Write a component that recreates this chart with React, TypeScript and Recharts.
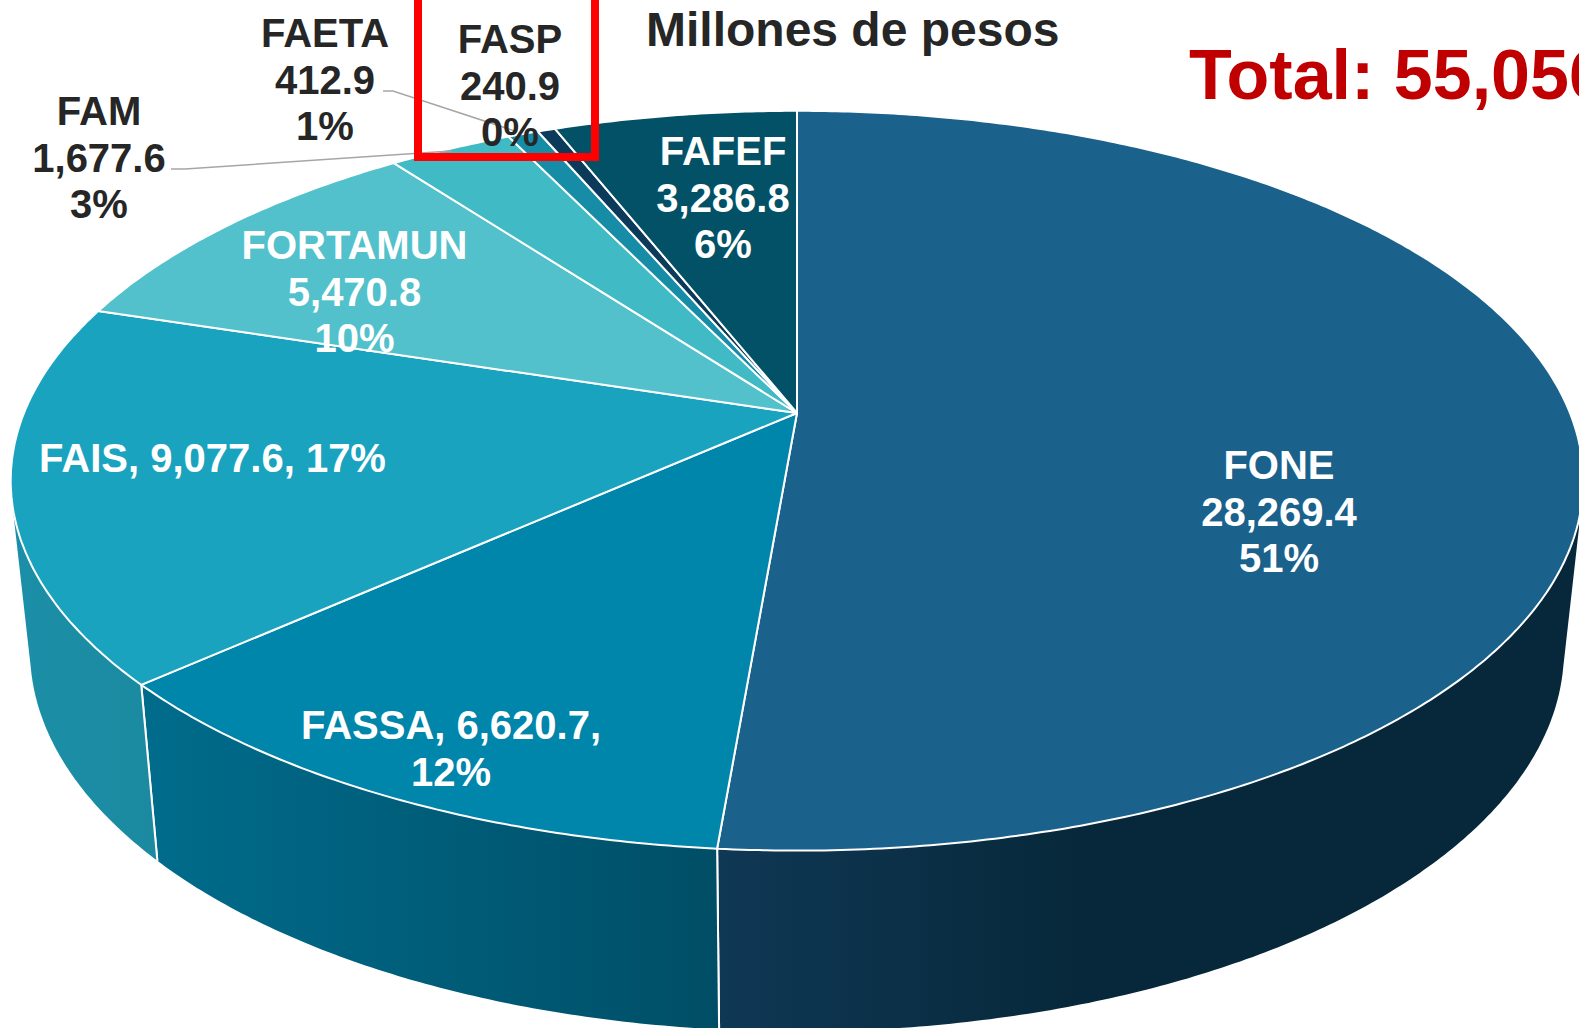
import React from "react";
import { PieChart, Pie } from "recharts";

const names = ["FONE", "FASSA", "FAIS", "FORTAMUN", "FAM", "FAETA", "FASP", "FAFEF"];
const amounts = [28269.4, 6620.7, 9077.6, 5470.8, 1677.6, 412.9, 240.9, 3286.8];
const shares = ["51%", "12%", "17%", "10%", "3%", "1%", "0%", "6%"];
const topColors = ["#1A618C", "#0085AB", "#1AA3BF", "#52C1CB", "#40BAC5", "#168CA6", "#0B3A5A", "#035166"];
const wallFrom = ["#0F3855", "#006C8C", "#1B8FA8", "#3FA0AA", "#309AA5", "#107088", "#082C44", "#023E4E"];
const wallTo = ["#07283A", "#004E66", "#1B8AA0", "#3FA0AA", "#309AA5", "#107088", "#082C44", "#023E4E"];
const wallStop = [0.42, 1, 1, 1, 1, 1, 1, 1];

const labelLines: string[][] = names.map((n, i) => {
  const v = amounts[i].toLocaleString("en-US", { minimumFractionDigits: 1, maximumFractionDigits: 1 });
  if (n === "FAIS") return [`${n}, ${v}, ${shares[i]}`];
  if (n === "FASSA") return [`${n}, ${v},`, shares[i]];
  return [n, v, shares[i]];
});
const labelX = [1279, 451, 212.5, 354.5, 99, 325, 510, 723];
const labelY = [479, 739, 472, 259, 125, 47, 53, 165];
const labelFill = ["#fff", "#fff", "#fff", "#fff", "#262626", "#262626", "#262626", "#fff"];
const leaders: Record<string, string> = {
  FAM: "171,169 185,169 451,151",
  FAETA: "383,91 393,91 515,131",
};

const chartData = names.map((name, i) => ({ name, value: amounts[i] }));

const FONT = "'Liberation Sans', Arial, sans-serif";
const PERSPECTIVE = 0.183;
const TOP_DISC = { x: 797, y: 413, rx: 773, ry: 357.5 };
const BASE_DISC = { x: 797, y: 581, rx: 754, ry: 368 };

type Pt = [number, number];
type Disc = typeof TOP_DISC;
const project = (d: Disc, angleDeg: number): Pt => {
  const t = (angleDeg * Math.PI) / 180;
  const u = Math.cos(t);
  const v = Math.sin(t);
  const w = 1 + PERSPECTIVE * v;
  return [d.x + (d.rx * u) / w, d.y - (d.ry * v) / w];
};
const rim = (d: Disc, a0: number, a1: number): Pt[] => {
  const n = Math.max(2, Math.ceil(Math.abs(a1 - a0) / 0.5));
  const out: Pt[] = [];
  for (let i = 0; i <= n; i++) out.push(project(d, a0 + ((a1 - a0) * i) / n));
  return out;
};
const toPath = (pts: Pt[]) => "M" + pts.map((p) => `${p[0].toFixed(1)},${p[1].toFixed(1)}`).join("L") + "Z";

// Each wall step is a quad with the same winding, so the side fills out to the silhouette.
const wallPath = (a: Pt[], b: Pt[]) => {
  let d = "";
  for (let i = 0; i < a.length - 1; i++) {
    const quad: Pt[] = [a[i], a[i + 1], b[i + 1], b[i]];
    let area = 0;
    quad.forEach((p, j) => {
      const q = quad[(j + 1) % 4];
      area += p[0] * q[1] - q[0] * p[1];
    });
    d += toPath(area < 0 ? [...quad].reverse() : quad);
  }
  return d;
};

const WallShape = (props: any) => {
  const { startAngle, endAngle, index } = props;
  const a = rim(TOP_DISC, startAngle, endAngle);
  const b = rim(BASE_DISC, startAngle, endAngle);
  const id = `wall-${index}`;
  const s0 = project(TOP_DISC, startAngle);
  const s1 = project(BASE_DISC, startAngle);
  const e0 = project(TOP_DISC, endAngle);
  const e1 = project(BASE_DISC, endAngle);
  return (
    <g>
      <defs>
        <linearGradient id={id} x1="0" y1="0" x2="1" y2="0">
          <stop offset="0" stopColor={wallFrom[index]} />
          <stop offset={wallStop[index]} stopColor={wallTo[index]} />
        </linearGradient>
      </defs>
      <path d={wallPath(a, b)} fill={`url(#${id})`} stroke="none" />
      <line x1={s0[0]} y1={s0[1]} x2={s1[0]} y2={s1[1]} stroke="#fff" strokeWidth={2} />
      <line x1={e0[0]} y1={e0[1]} x2={e1[0]} y2={e1[1]} stroke="#fff" strokeWidth={2} />
    </g>
  );
};

const TopShape = (props: any) => {
  const { startAngle, endAngle, index } = props;
  const pts: Pt[] = [[TOP_DISC.x, TOP_DISC.y], ...rim(TOP_DISC, startAngle, endAngle)];
  return <path d={toPath(pts)} fill={topColors[index]} stroke="#fff" strokeWidth={2} strokeLinejoin="round" />;
};

const renderLabel = (props: any) => {
  const i = props.index;
  const name = names[i];
  return (
    <g key={name}>
      {leaders[name] && <polyline points={leaders[name]} fill="none" stroke="#A6A6A6" strokeWidth={1.5} />}
      {name === "FASP" && <rect x={418} y={-20} width={177} height={177} fill="none" stroke="#FF0000" strokeWidth={8} />}
      {labelLines[i].map((line, j) => (
        <text
          key={j}
          x={labelX[i]}
          y={labelY[i] + j * 46.7}
          textAnchor="middle"
          fontFamily={FONT}
          fontWeight={700}
          fontSize={40}
          fill={labelFill[i]}
        >
          {line}
        </text>
      ))}
    </g>
  );
};

export default function App() {
  return (
    <div style={{ position: "absolute", left: 0, top: 0, width: 1579, height: 1028, overflow: "hidden" }}>
      <PieChart width={1579} height={1028} margin={{ top: 0, right: 0, bottom: 0, left: 0 }}>
        <Pie
          data={chartData}
          dataKey="value"
          nameKey="name"
          cx={TOP_DISC.x}
          cy={TOP_DISC.y}
          innerRadius={0}
          outerRadius={TOP_DISC.rx}
          startAngle={90}
          endAngle={-270}
          isAnimationActive={false}
          shape={WallShape}
          label={false}
          labelLine={false}
        />
        <Pie
          data={chartData}
          dataKey="value"
          nameKey="name"
          cx={TOP_DISC.x}
          cy={TOP_DISC.y}
          innerRadius={0}
          outerRadius={TOP_DISC.rx}
          startAngle={90}
          endAngle={-270}
          isAnimationActive={false}
          shape={TopShape}
          label={renderLabel}
          labelLine={false}
        />
        <text x={646} y={46} fontFamily={FONT} fontWeight={700} fontSize={48} fill="#262626">
          Millones de pesos
        </text>
        <text x={1189} y={99} fontFamily={FONT} fontWeight={700} fontSize={70} fill="#C00000">
          Total: 55,056.7
        </text>
      </PieChart>
    </div>
  );
}
